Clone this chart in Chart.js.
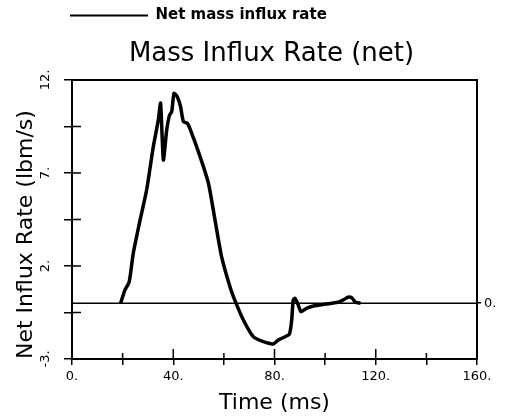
<!DOCTYPE html>
<html>
<head>
<meta charset="utf-8">
<script src="https://cdn.jsdelivr.net/npm/chart.js@4"></script>
<style>
  html, body { margin: 0; padding: 0; background: #fff; }
</style>
</head>
<body>
<canvas id="chart" width="505" height="417"></canvas>
<script>
// time (ms) and net influx rate (lbm/s)
const timeMs = [19.2, 20.9, 22.6, 24.2, 26.9, 29.5, 32.1, 34.1, 35.0, 36.1, 37.4, 38.5, 39.4, 40.3,
  41.6, 42.9, 44.0, 45.6, 47.3, 50.6, 53.9, 56.5, 59.1, 62.4, 64.8, 67.7, 71.6, 75.6, 79.5,
  81.5, 84.2, 85.9, 86.8, 87.4, 88.1, 89.1, 90.5, 92.7, 95.4, 100, 105, 107.5, 109, 110.5, 112, 114];
const influx = [0, 0.7, 1.15, 2.68, 4.47, 6.1, 8.4, 9.85, 10.75, 7.7, 9.3, 10.1, 10.3, 11.28,
  11.1, 10.56, 9.76, 9.67, 9.13, 7.88, 6.45, 4.47, 2.5, 0.89, 0, -0.9, -1.8, -2.07, -2.19,
  -1.98, -1.8, -1.66, -0.9, 0.17, 0.26, 0, -0.46, -0.27, -0.15, -0.05, 0.05, 0.2, 0.32, 0.3, 0.05, 0];

const zeroLineX = [0, 160];
const xLabelValues = [0, 40, 80, 120, 160];
const yTickValues = [-3, -0.5, 2, 4.5, 7, 9.5, 12];
const yLabelValues = [-3, 2, 7, 12];
const rightTickValues = [0];

const seriesLabel = 'Net mass influx rate';
const chartTitle = 'Mass Influx Rate (net)';
const xTitle = 'Time (ms)';
const yTitle = 'Net Influx Rate (lbm/s)';

Chart.defaults.font.family = "'DejaVu Sans', sans-serif";
Chart.defaults.color = '#000';

// place legend/title and draw the inner half of the crossing tick marks
const plotTweaks = {
  id: 'plotTweaks',
  beforeDraw(chart) {
    chart.legend.left = 62;
    chart.titleBlock.left = 66;
    chart.titleBlock.right = 477;
  },
  afterDatasetsDraw(chart) {
    const {ctx, chartArea, scales} = chart;
    ctx.save();
    ctx.strokeStyle = '#000';
    ctx.lineWidth = 1.5;
    ctx.beginPath();
    scales.x.ticks.forEach(t => {
      const px = scales.x.getPixelForValue(t.value);
      const len = xLabelValues.includes(t.value) ? 10 : 6;
      ctx.moveTo(px, chartArea.bottom);
      ctx.lineTo(px, chartArea.bottom - len);
    });
    scales.y.ticks.forEach(t => {
      const py = scales.y.getPixelForValue(t.value);
      ctx.moveTo(chartArea.left, py);
      ctx.lineTo(chartArea.left + 9, py);
    });
    ctx.stroke();
    ctx.restore();
  }
};

const ctx = document.getElementById('chart').getContext('2d');
const chart = new Chart(ctx, {
  type: 'line',
  data: {
    datasets: [
      {
        label: seriesLabel,
        data: timeMs.map((t, i) => ({x: t, y: influx[i]})),
        borderColor: '#000',
        borderWidth: 3.5,
        pointRadius: 0,
        tension: 0.2,
        fill: false
      },
      {
        label: 'zero',
        data: zeroLineX.map(x => ({x: x, y: 0})),
        borderColor: '#000',
        borderWidth: 1.5,
        pointRadius: 0,
        fill: false
      }
    ]
  },
  options: {
    responsive: false,
    animation: false,
    devicePixelRatio: 1,
    layout: { padding: 0 },
    plugins: {
      tooltip: { enabled: false },
      legend: {
        position: 'top',
        align: 'start',
        weight: 3000,
        labels: {
          boxWidth: 78,
          boxHeight: 2,
          padding: 8,
          color: '#000',
          font: { size: 15, weight: 'bold' },
          generateLabels: () => [{
            text: seriesLabel,
            fillStyle: '#000',
            strokeStyle: '#000',
            lineWidth: 0,
            fontColor: '#000',
            hidden: false,
            datasetIndex: 0
          }]
        }
      },
      title: {
        display: true,
        text: chartTitle,
        weight: 1000,
        color: '#000',
        font: { size: 26, weight: 'normal' },
        padding: { top: 6, bottom: 0 }
      }
    },
    scales: {
      x: {
        type: 'linear',
        position: 'bottom',
        min: 0,
        max: 160,
        ticks: {
          stepSize: 20,
          autoSkip: false,
          maxRotation: 0,
          padding: 4,
          font: { size: 13 },
          callback: v => xLabelValues.includes(v) ? v + '.' : ''
        },
        grid: { drawOnChartArea: false, tickLength: 6, color: '#000', lineWidth: 1.5 },
        border: { color: '#000', width: 2 },
        title: { display: true, text: xTitle, font: { size: 22 }, padding: { top: 0, bottom: 1 } },
        afterFit: s => { s.height = 58; }
      },
      xTop: {
        type: 'linear',
        position: 'top',
        min: 0,
        max: 160,
        ticks: { display: false },
        grid: { display: false },
        border: { color: '#000', width: 2 },
        afterFit: s => { s.height = 80 - s.chart.legend.height - s.chart.titleBlock.height; }
      },
      y: {
        position: 'left',
        min: -3,
        max: 12,
        afterBuildTicks: s => { s.ticks = yTickValues.map(v => ({value: v})); },
        ticks: {
          minRotation: 90,
          maxRotation: 90,
          crossAlign: 'center',
          padding: 8,
          font: { size: 13 },
          callback: v => yLabelValues.includes(v) ? v + '.' : ''
        },
        grid: { drawOnChartArea: false, tickLength: 8, color: '#000', lineWidth: 1.5 },
        border: { color: '#000', width: 2 },
        title: { display: true, text: yTitle, align: 'start', font: { size: 22 }, padding: { top: 13, bottom: 0 } },
        afterFit: s => { s.width = 72; }
      },
      y2: {
        position: 'right',
        min: -3,
        max: 12,
        afterBuildTicks: s => { s.ticks = rightTickValues.map(v => ({value: v})); },
        ticks: { padding: 3, font: { size: 13 }, callback: v => v + '.' },
        grid: { drawOnChartArea: false, tickLength: 4, color: '#000', lineWidth: 1.5 },
        border: { color: '#000', width: 2 },
        afterFit: s => { s.width = 28; }
      }
    }
  },
  plugins: [plotTweaks]
});
</script>
</body>
</html>
